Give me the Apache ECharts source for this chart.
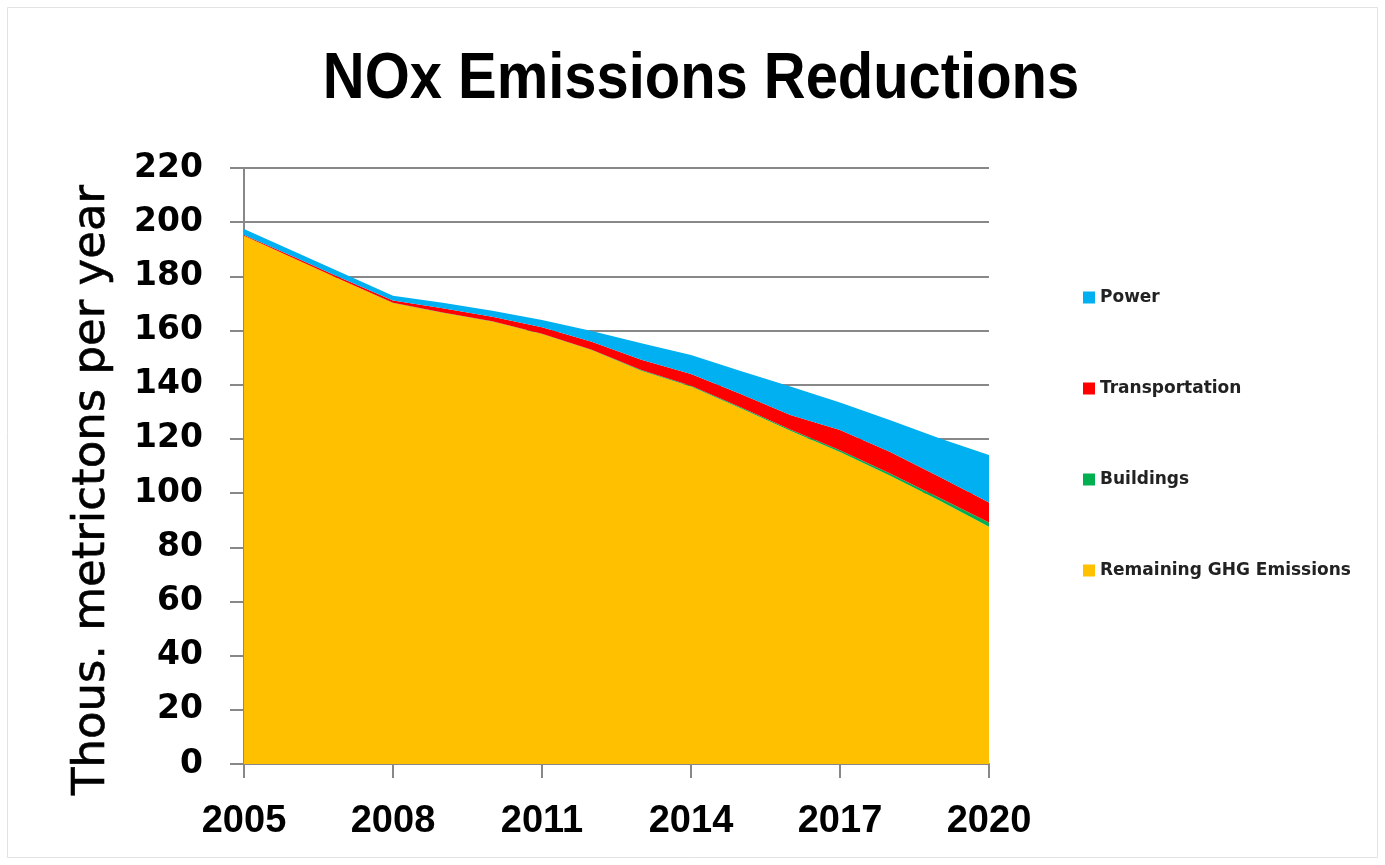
<!DOCTYPE html>
<html>
<head>
<meta charset="utf-8">
<script src="https://cdn.jsdelivr.net/npm/echarts@6/dist/echarts.min.js"></script>
<style>
  html, body { margin: 0; padding: 0; background: #ffffff; }
  #chart { width: 1385px; height: 865px; }
</style>
</head>
<body>
<div id="chart"></div>
<script>
// Years on the horizontal axis
const years = ['2005','2006','2007','2008','2009','2010','2011','2012','2013','2014','2015','2016','2017','2018','2019','2020'];

// Stacked NOx components, thousand metric tons per year
const remaining      = [195, 186.7, 178.4, 170.2, 166.6, 163.3, 158.7, 152.8, 145.2, 139.3, 131.3, 123, 115.2, 106.5, 97.3, 87.6];
const buildings      = [0, 0, 0, 0.1, 0.1, 0.1, 0.1, 0.1, 0.2, 0.3, 0.4, 0.5, 0.6, 0.8, 1.0, 1.5];
const transportation = [0.3, 0.5, 0.6, 0.8, 1.5, 1.7, 2.4, 3.0, 3.8, 4.4, 4.9, 5.3, 7.5, 8.0, 7.7, 7.4];
const power          = [2.2, 2.1, 2.1, 1.7, 2.1, 2.2, 2.7, 3.9, 6.1, 7.0, 8.5, 10.5, 10.1, 11.7, 14.2, 17.6];

const seriesNames = ['Remaining GHG Emissions', 'Buildings', 'Transportation', 'Power'];
const seriesColors = ['#FFC000', '#00B050', '#FF0000', '#00B0F0'];
const seriesData = [remaining, buildings, transportation, power];

const chart = echarts.init(document.getElementById('chart'), null, { renderer: 'canvas' });

const option = {
  backgroundColor: '#ffffff',
  animation: false,
  legend: {
    orient: 'vertical',
    left: 1083,
    top: 289,
    padding: 0,
    itemWidth: 12,
    itemHeight: 12,
    itemGap: 74,
    icon: 'rect',
    data: ['Power', 'Transportation', 'Buildings', 'Remaining GHG Emissions'],
    textStyle: {
      fontFamily: "'DejaVu Sans', sans-serif",
      fontSize: 17,
      fontWeight: 'bold',
      color: '#222222',
      padding: [0, 0, 0, 0]
    }
  },
  grid: {
    left: 244,
    right: 396,
    top: 168,
    bottom: 101,
    containLabel: false
  },
  xAxis: {
    type: 'category',
    data: years,
    boundaryGap: false,
    axisLine: { lineStyle: { color: '#888888', width: 2 } },
    axisTick: { interval: 2, length: 14, lineStyle: { color: '#888888', width: 2 } },
    axisLabel: {
      interval: 2,
      margin: 39,
      fontFamily: "'Liberation Sans', sans-serif",
      fontWeight: 'bold',
      fontSize: 38,
      color: '#000000'
    },
    splitLine: { show: false }
  },
  yAxis: {
    type: 'value',
    min: 0,
    max: 220,
    interval: 20,
    axisLine: { show: true, lineStyle: { color: '#888888', width: 2 } },
    axisTick: { show: true, length: 14, lineStyle: { color: '#888888', width: 2 } },
    axisLabel: {
      margin: 41,
      fontFamily: "'DejaVu Sans', sans-serif",
      fontWeight: 'bold',
      fontSize: 33,
      color: '#000000'
    },
    splitLine: { show: true, lineStyle: { color: '#888888', width: 2 } }
  },
  graphic: [
    {
      type: 'rect',
      shape: { x: 7.5, y: 7.5, width: 1370, height: 850 },
      style: { fill: 'none', stroke: '#e2e2e2', lineWidth: 1 },
      silent: true
    },
    {
      // chart title, narrowed horizontally
      type: 'text',
      x: 701,
      y: 80,
      scaleX: 0.905,
      style: {
        text: 'NOx Emissions Reductions',
        fontFamily: "'Liberation Sans', sans-serif",
        fontWeight: 'bold',
        fontSize: 64,
        fill: '#000000',
        textAlign: 'center',
        textVerticalAlign: 'middle'
      },
      silent: true
    },
    {
      // vertical axis title
      type: 'text',
      x: 92,
      y: 490,
      rotation: Math.PI / 2,
      style: {
        text: 'Thous. metrictons per year',
        fontFamily: "'DejaVu Sans', sans-serif",
        fontSize: 45,
        fill: '#000000',
        stroke: '#000000',
        lineWidth: 0.6,
        textAlign: 'center',
        textVerticalAlign: 'middle'
      },
      silent: true
    }
  ],
  series: seriesNames.map((name, i) => ({
    name: name,
    type: 'line',
    stack: 'total',
    data: seriesData[i],
    showSymbol: false,
    symbol: 'none',
    lineStyle: { width: 0 },
    itemStyle: { color: seriesColors[i] },
    areaStyle: { color: seriesColors[i], opacity: 1 },
    z: 2
  }))
};

chart.setOption(option);
</script>
</body>
</html>
